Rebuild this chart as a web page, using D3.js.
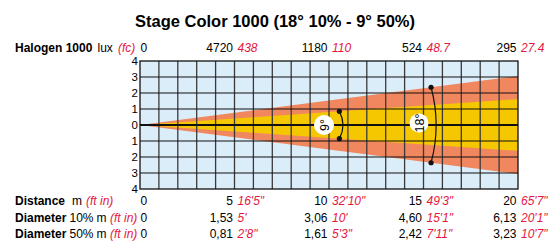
<!DOCTYPE html>
<html><head><meta charset="utf-8">
<script src="https://cdn.jsdelivr.net/npm/d3@7"></script>
<style>body{margin:0;background:#fff}text{font-family:"Liberation Sans",Arial,sans-serif}</style>
</head><body><svg id="c" width="551" height="244"></svg>
<script>
const distances = [0, 5, 10, 15, 20];
const distFt = ["", "16'5\"", "32'10\"", "49'3\"", "65'7\""];
const luxVals = ["0", "4720", "1180", "524", "295"];
const fcVals = ["", "438", "110", "48.7", "27.4"];
const diam10 = ["0", "1,53", "3,06", "4,60", "6,13"];
const diam10Ft = ["", "5'", "10'", "15'1\"", "20'1\""];
const diam50 = ["0", "0,81", "1,61", "2,42", "3,23"];
const diam50Ft = ["", "2'8\"", "5'3\"", "7'11\"", "10'7\""];
const beamAngles = [18, 9];           // outer 10%, inner 50%
const beamDiamAt20 = [6.13, 3.23];
const yTicks = [-4, -3, -2, -1, 0, 1, 2, 3, 4];

const RED = "#e5173f";
const FS = 12;
const svg = d3.select("#c");
const x = d3.scaleLinear().domain([0, 20]).range([140, 518]);
const y = d3.scaleLinear().domain([-4, 4]).range([189, 61]);

svg.append("text").attr("x", 275).attr("y", 27).attr("text-anchor", "middle")
  .attr("font-size", 16.5).attr("font-weight", "bold").text("Stage Color 1000 (18° 10% - 9° 50%)");

// background
svg.append("rect").attr("x", x(0)).attr("y", y(4)).attr("width", x(20) - x(0)).attr("height", y(-4) - y(4)).attr("fill", "#dcedfa");

// beams
const cols = ["#f0875f", "#f5c700"];
beamDiamAt20.forEach((d, i) => {
  const h = d / 2;
  svg.append("path").attr("fill", cols[i])
    .attr("d", d3.line()([[x(0), y(0)], [x(20), y(h)], [x(20), y(-h)]]) + "Z");
});

// grid
const g = svg.append("g");
d3.range(1, 20).forEach(v => g.append("line").attr("x1", x(v)).attr("x2", x(v)).attr("y1", y(4)).attr("y2", y(-4)).attr("stroke", "#3a3a3a").attr("stroke-width", 1.3));
d3.range(-3, 4).forEach(v => g.append("line").attr("x1", x(0)).attr("x2", x(20)).attr("y1", y(v)).attr("y2", y(v)).attr("stroke", "#111").attr("stroke-width", v === 0 ? 2 : 1.1));
g.append("rect").attr("x", x(0)).attr("y", y(4)).attr("width", x(20) - x(0)).attr("height", y(-4) - y(4)).attr("fill", "none").attr("stroke", "#111").attr("stroke-width", 1.3);

// y tick labels
yTicks.forEach(v => svg.append("text").attr("x", 138).attr("y", y(v)).attr("dy", "0.36em").attr("text-anchor", "end").attr("font-size", 11.5).text(Math.abs(v)));

// angle arcs
const arcs = [{ dist: 15.4, idx: 0, lx: 419, ly: 123, r: 9.5 }, { dist: 10.55, idx: 1, lx: 324, ly: 125, r: 10 }];
arcs.forEach(a => {
  const h = beamDiamAt20[a.idx] / 2 * a.dist / 20;
  const px = x(a.dist), y1 = y(h), y2 = y(-h);
  const half = (y2 - y1) / 2;
  const sag = a.idx === 0 ? 5 : 3.4;
  const R = (half * half + sag * sag) / (2 * sag);
  svg.append("path").attr("fill", "none").attr("stroke", "#111").attr("stroke-width", 1.2)
    .attr("d", `M${px},${y1} A${R},${R} 0 0 1 ${px},${y2}`);
  [y1, y2].forEach(yy => svg.append("circle").attr("cx", px).attr("cy", yy).attr("r", 2.6).attr("fill", "#111"));
  svg.append("circle").attr("cx", a.lx).attr("cy", a.ly).attr("r", a.r).attr("fill", "#fff");
  svg.append("text").attr("transform", `translate(${a.lx + 4.5},${a.ly}) rotate(-90)`).attr("text-anchor", "middle")
    .attr("font-size", 12.5).text(beamAngles[a.idx] + "°");
});

// rows
function row(yy, nums, reds) {
  distances.forEach((d, i) => {
    if (i === 0) {
      svg.append("text").attr("x", x(0) + 0.5).attr("y", yy).attr("font-size", FS).text(nums[i]);
    } else {
      svg.append("text").attr("x", x(d) - 1.5).attr("y", yy).attr("text-anchor", "end").attr("font-size", FS).text(nums[i]);
      svg.append("text").attr("x", x(d) + 3).attr("y", yy).attr("font-size", FS).attr("font-style", "italic").attr("fill", RED).text(reds[i]);
    }
  });
}
function label(yy, parts) {
  parts.forEach(p => {
    const t = svg.append("text").attr("x", p.x).attr("y", yy).attr("font-size", FS).text(p.t);
    if (p.b) t.attr("font-weight", "bold");
    if (p.r) t.attr("fill", RED).attr("font-style", "italic");
  });
}
const rowsY = [52, 205, 221.5, 238];
label(rowsY[0], [{ x: 15, t: "Halogen 1000", b: 1 }, { x: 97.5, t: "lux" }, { x: 118, t: "(fc)", r: 1 }]);
row(rowsY[0], luxVals, fcVals);
label(rowsY[1], [{ x: 15, t: "Distance", b: 1 }, { x: 72, t: "m" }, { x: 86, t: "(ft in)", r: 1 }]);
row(rowsY[1], distances.map(String), distFt);
label(rowsY[2], [{ x: 15, t: "Diameter", b: 1 }, { x: 69.5, t: "10%" }, { x: 96.5, t: "m" }, { x: 110, t: "(ft in)", r: 1 }]);
row(rowsY[2], diam10, diam10Ft);
label(rowsY[3], [{ x: 15, t: "Diameter", b: 1 }, { x: 69.5, t: "50%" }, { x: 96.5, t: "m" }, { x: 110, t: "(ft in)", r: 1 }]);
row(rowsY[3], diam50, diam50Ft);
</script></body></html>
